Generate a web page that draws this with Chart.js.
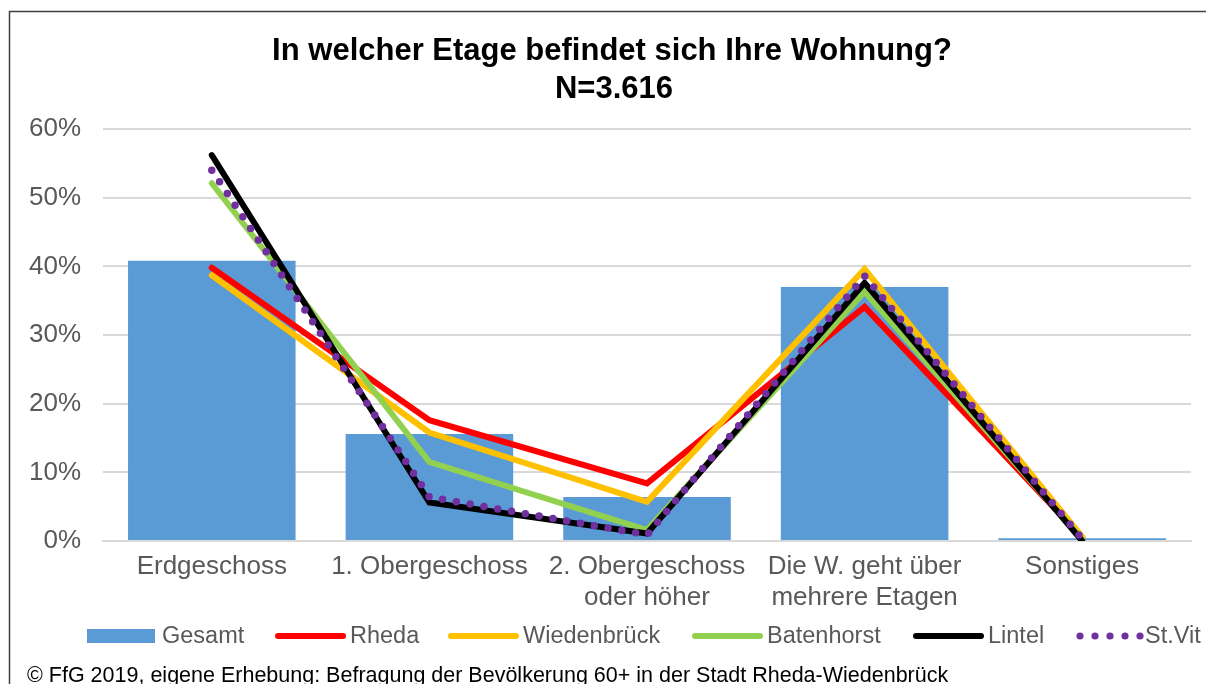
<!DOCTYPE html>
<html>
<head>
<meta charset="utf-8">
<script src="https://cdn.jsdelivr.net/npm/chart.js@4/dist/chart.umd.min.js"></script>
<style>
  html, body { margin: 0; padding: 0; background: #fff; }
  #wrap { width: 1206px; height: 684px; position: relative; }
</style>
</head>
<body>
<div id="wrap"><canvas id="canvas1"></canvas></div>
<script>
const labels = [
  'Erdgeschoss',
  '1. Obergeschoss',
  ['2. Obergeschoss', 'oder höher'],
  ['Die W. geht über', 'mehrere Etagen'],
  'Sonstiges',
];
const gesamt = [40.8, 15.6, 6.4, 37.0, 0.4];
const rheda = [39.8, 17.6, 8.4, 34.1, 0.5];
const wiedenbrueck = [38.7, 15.8, 5.7, 39.6, 0.6];
const batenhorst = [52.1, 11.5, 1.6, 36.3, 0.2];
const lintel = [56.2, 5.6, 1.1, 37.6, 0.0];
const stVit = [54.0, 6.4, 0.9, 38.6, 0.3];
const yTicks = [0, 10, 20, 30, 40, 50, 60];

const FONT = '"Liberation Sans", Arial, sans-serif';
const GREY = '#595959';

function lineSet(label, values, color, order) {
  return {
    type: 'line',
    label: label,
    data: values,
    borderColor: color,
    backgroundColor: color,
    borderWidth: 6,
    borderCapStyle: 'round',
    borderJoinStyle: 'miter',
    pointRadius: 0,
    tension: 0,
    fill: false,
    order: order,
  };
}

const data = {
  labels: labels,
  datasets: [
    lineSet('Rheda', rheda, '#ff0000', 5),
    lineSet('Wiedenbrück', wiedenbrueck, '#ffc000', 4),
    lineSet('Batenhorst', batenhorst, '#92d050', 3),
    lineSet('Lintel', lintel, '#000000', 2),
    Object.assign(lineSet('St.Vit', stVit, '#7030a0', 1), {
      borderDash: [0, 14],
      borderWidth: 7.5,
    }),
    {
      type: 'bar',
      label: 'Gesamt',
      data: gesamt,
      backgroundColor: '#5b9bd5',
      categoryPercentage: 1,
      barPercentage: 0.77,
      order: 10,
    },
  ]
};

// frame, white background and title
const framePlugin = {
  id: 'frame',
  beforeDraw(chart) {
    const c = chart.ctx;
    c.save();
    c.fillStyle = '#fff';
    c.fillRect(0, 0, chart.width, chart.height);
    c.strokeStyle = '#404040';
    c.lineWidth = 1.5;
    c.beginPath();
    c.moveTo(9.5, chart.height);
    c.lineTo(9.5, 11.5);
    c.lineTo(chart.width, 11.5);
    c.stroke();
    c.fillStyle = '#000';
    c.font = 'bold 31px ' + FONT;
    c.textAlign = 'center';
    c.textBaseline = 'middle';
    c.fillText('In welcher Etage befindet sich Ihre Wohnung?', 612, 51);
    c.fillText('N=3.616', 614, 89);
    c.restore();
  }
};

// legend row + source caption
const legendPlugin = {
  id: 'legendRow',
  afterDraw(chart) {
    const c = chart.ctx;
    const y = 636;
    const items = [
      { ds: 5, x: 87, kind: 'box' },
      { ds: 0, x: 275, kind: 'line' },
      { ds: 1, x: 448, kind: 'line' },
      { ds: 2, x: 692, kind: 'line' },
      { ds: 3, x: 913, kind: 'line' },
      { ds: 4, x: 1077, kind: 'dots' },
    ];
    c.save();
    c.font = '23.5px ' + FONT;
    c.textBaseline = 'middle';
    items.forEach(it => {
      const ds = chart.data.datasets[it.ds];
      let tx;
      if (it.kind === 'box') {
        c.fillStyle = ds.backgroundColor;
        c.fillRect(it.x, y - 7, 68, 14);
        tx = it.x + 75;
      } else if (it.kind === 'line') {
        c.strokeStyle = ds.borderColor;
        c.lineWidth = 6;
        c.lineCap = 'round';
        c.beginPath();
        c.moveTo(it.x + 3, y);
        c.lineTo(it.x + 68, y);
        c.stroke();
        tx = it.x + 75;
      } else {
        c.fillStyle = ds.borderColor;
        for (let i = 0; i < 5; i++) {
          c.beginPath();
          c.arc(it.x + 3 + i * 15, y, 3.6, 0, Math.PI * 2);
          c.fill();
        }
        tx = it.x + 68;
      }
      c.fillStyle = GREY;
      c.textAlign = 'left';
      c.fillText(ds.label, tx, y + 1);
    });
    c.fillStyle = '#000';
    c.font = '21.5px ' + FONT;
    c.fillText('© FfG 2019, eigene Erhebung: Befragung der Bevölkerung 60+ in der Stadt Rheda-Wiedenbrück', 27, 676);
    c.restore();
  }
};

const options = {
  responsive: false,
  animation: false,
  layout: { padding: { top: 129, left: 0, right: 15, bottom: 0 } },
  plugins: {
    legend: { display: false },
    tooltip: { enabled: false },
    title: { display: false },
  },
  scales: {
    y: {
      min: 0,
      max: 60,
      afterBuildTicks(scale) {
        scale.ticks = yTicks.map(v => ({ value: v }));
      },
      afterFit(scale) { scale.width = 103; },
      grid: { color: '#d9d9d9', lineWidth: 2, drawTicks: false },
      border: { display: false },
      ticks: {
        color: GREY,
        padding: 22,
        font: { family: FONT, size: 26 },
        callback: v => v + '%',
      },
    },
    x: {
      afterFit(scale) { scale.height = 143; },
      grid: { display: false, drawTicks: false },
      border: { color: '#d9d9d9', width: 2 },
      ticks: {
        color: GREY,
        padding: 10,
        maxRotation: 0,
        autoSkip: false,
        font: { family: FONT, size: 26, lineHeight: 1.2 },
      },
    }
  },
};

const canvas = document.getElementById('canvas1');
canvas.width = 1206;
canvas.height = 684;
canvas.style.width = '1206px';
canvas.style.height = '684px';
var ctx = canvas.getContext('2d');
var myChart = new Chart(ctx, {
  type: 'bar',
  data: data,
  options: options,
  plugins: [framePlugin, legendPlugin],
});
</script>
</body>
</html>
